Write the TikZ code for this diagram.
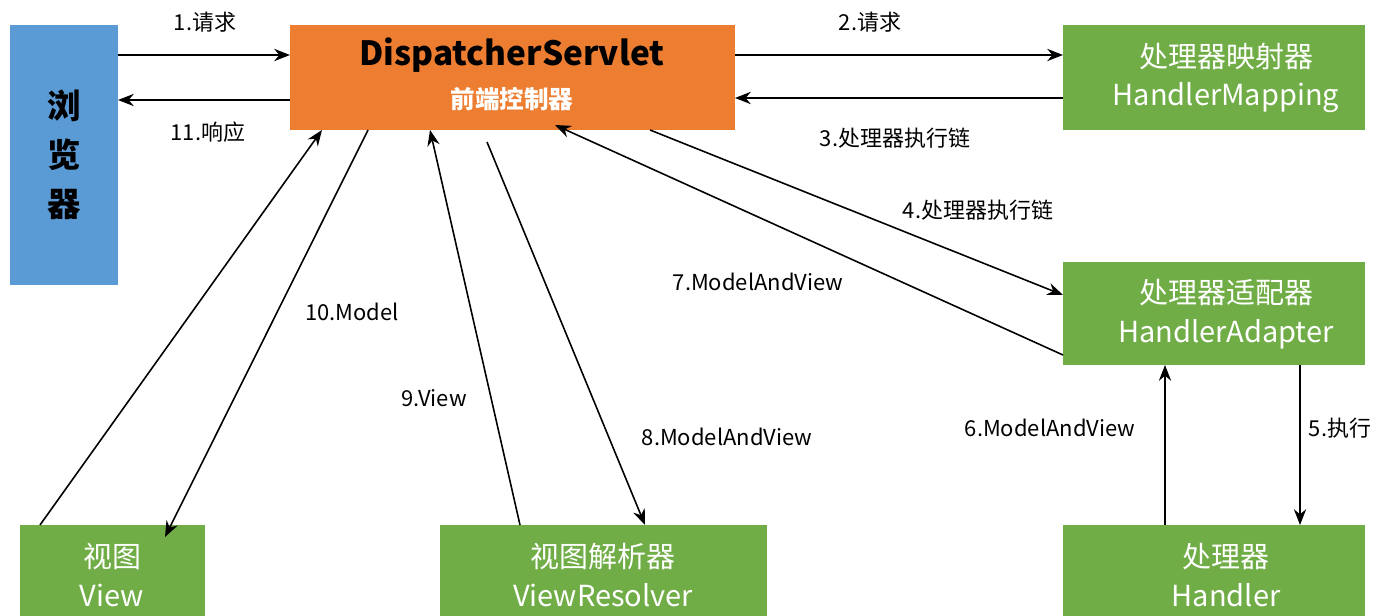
\documentclass[tikz,border=0pt]{standalone}
\usepackage{fontspec}
\setmainfont{Noto Sans CJK SC}
\usetikzlibrary{arrows.meta}
\definecolor{og}{HTML}{ED7D31}
\definecolor{gr}{HTML}{70AD47}
\definecolor{bl}{HTML}{5B9BD5}
\begin{document}
\begin{tikzpicture}[x=0.02cm,y=-0.02cm,
  box/.style={draw=none,minimum width=0pt},
  arr/.style={-{Stealth[length=9pt,width=7pt]},line width=0.9pt},
  lab/.style={font=\fontsize{12.5}{14}\selectfont},
  gtxt/.style={text=white,font=\fontsize{16.5}{22}\selectfont,align=center}]
\useasboundingbox (0,0) rectangle (1398,615);
\fill[bl] (10,25) rectangle (118,285);
\node[font=\bfseries\fontsize{19}{28}\selectfont,align=center] (br) at (64,155) {浏\\览\\器};
\coordinate (brA) at (118,55); \coordinate (brB) at (118,100);
\fill[og] (290,25) rectangle (735,130);
\node[font=\bfseries\fontsize{19}{22}\selectfont] (ds) at (512,55) {DispatcherServlet};
\node[text=white,font=\bfseries\fontsize{14}{16}\selectfont] (dsc) at (512,99) {前端控制器};
\fill[gr] (1063,25) rectangle (1365,130);
\node[gtxt] (hm) at (1226,78) {处理器映射器\\HandlerMapping};
\fill[gr] (1063,262) rectangle (1365,365);
\node[gtxt] (ha) at (1226,314) {处理器适配器\\HandlerAdapter};
\fill[gr] (1063,525) rectangle (1365,630);
\node[gtxt] (hd) at (1226,575) {处理器\\Handler};
\fill[gr] (20,525) rectangle (205,630);
\node[gtxt] (vw) at (112,575) {视图\\View};
\fill[gr] (440,525) rectangle (767,630);
\node[gtxt] (vr) at (603,575) {视图解析器\\ViewResolver};
\draw[arr] (brA) -- (290,55);
\draw[arr] (290,100) -- (brB);
\draw[arr] (735,55) -- (1063,55);
\draw[arr] (1063,98) -- (735,98);
\draw[arr] (650,130) -- (1063,295);
\draw[arr] (1300,365) -- (1300,525);
\draw[arr] (1165,525) -- (1165,365);
\draw[arr] (1063,355) -- (555,125);
\draw[arr] (487,142) -- (645,525);
\draw[arr] (520,525) -- (430,130);
\draw[arr] (40,525) -- (322,130);
\draw[arr] (368,130) -- (165,537);
\node[lab] at (205,22) {1.请求};
\node[lab] at (870,22) {2.请求};
\node[lab] at (895,138) {3.处理器执行链};
\node[lab] at (978,210) {4.处理器执行链};
\node[lab] at (1340,428) {5.执行};
\node[lab] at (1050,428) {6.ModelAndView};
\node[lab] at (758,282) {7.ModelAndView};
\node[lab] at (727,437) {8.ModelAndView};
\node[lab] at (434,398) {9.View};
\node[lab] at (352,312) {10.Model};
\node[lab] at (208,132) {11.响应};
\end{tikzpicture}
\end{document}
